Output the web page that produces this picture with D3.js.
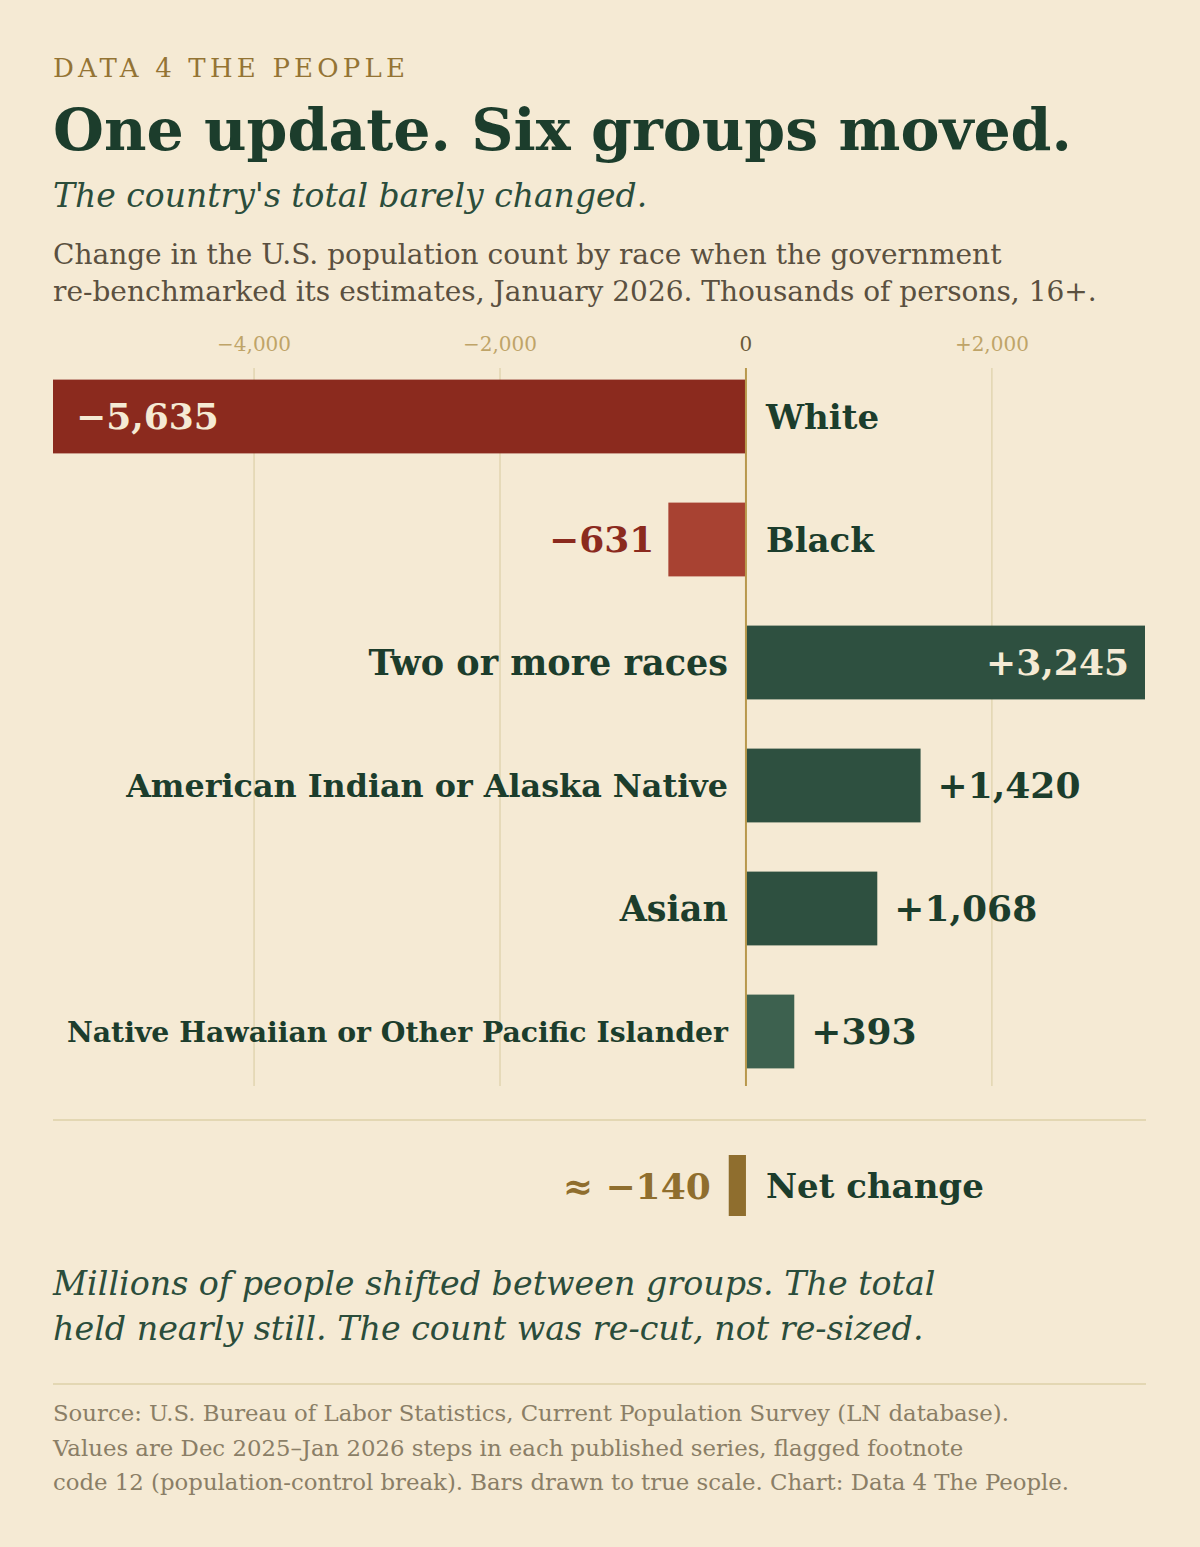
<!DOCTYPE html>
<html><head><meta charset="utf-8">
<script src="https://cdn.jsdelivr.net/npm/d3@7"></script>
<style>body{margin:0;background:#f5ead4;}</style>
</head><body>
<script>
const categories = ["White", "Black", "Two or more races", "American Indian or Alaska Native", "Asian", "Native Hawaiian or Other Pacific Islander"];
const values = [-5635, -631, 3245, 1420, 1068, 393];
const netChange = -140;
const ticks = [-4000, -2000, 0, 2000];

const W = 1200, H = 1547;
const svg = d3.select("body").append("svg").attr("width", W).attr("height", H)
  .style("font-family", "'DejaVu Serif', serif");
svg.append("rect").attr("width", W).attr("height", H).attr("fill", "#f5ead4");

const ink = "#1c3d2c";
svg.append("text").attr("x", 53).attr("y", 77).attr("fill", "#947434")
  .attr("font-size", 26).attr("letter-spacing", 4.2).text("DATA 4 THE PEOPLE");
svg.append("text").attr("x", 53).attr("y", 150).attr("fill", ink)
  .attr("font-size", 58.5).attr("font-weight", "bold").text("One update. Six groups moved.");
svg.append("text").attr("x", 53).attr("y", 207).attr("fill", "#2b4d3b")
  .attr("font-size", 33).attr("font-style", "italic").text("The country's total barely changed.");
[["Change in the U.S. population count by race when the government", 264],
 ["re-benchmarked its estimates, January 2026. Thousands of persons, 16+.", 301]].forEach(([t, y]) =>
  svg.append("text").attr("x", 53).attr("y", y).attr("fill", "#5a5040").attr("font-size", 28).text(t));

const x = d3.scaleLinear().domain([d3.min(values), d3.max(values)]).range([53, 1145]);
const y = d3.scaleBand().domain(categories).range([355, 1093]).paddingInner(0.4).paddingOuter(0.2);

const fmt = v => (v > 0 ? "+" : v < 0 ? "\u2212" : "") + d3.format(",")(Math.abs(v));

// grid
svg.append("g").selectAll("line").data(ticks.filter(t => t !== 0)).join("line")
  .attr("x1", d => x(d)).attr("x2", d => x(d)).attr("y1", 368).attr("y2", 1086)
  .attr("stroke", "#ddd0a8").attr("stroke-width", 1.2);
svg.append("g").selectAll("text").data(ticks).join("text")
  .attr("x", d => x(d)).attr("y", 351).attr("text-anchor", "middle")
  .attr("font-size", 20).attr("fill", d => d === 0 ? "#6a5a3a" : "#bfa468")
  .text(d => d === 0 ? "0" : fmt(d));

const barColor = (d, i) => i === 0 ? "#8b2a1e" : i === 1 ? "#a84232" : i === 5 ? "#3d614f" : "#2e5040";
const labelSize = [34, 34, 35, 31.8, 35, 28.3];

const rows = svg.append("g").selectAll("g").data(categories).join("g");
rows.append("rect")
  .attr("x", (d, i) => Math.min(x(0), x(values[i])))
  .attr("width", (d, i) => Math.abs(x(values[i]) - x(0)))
  .attr("y", d => y(d)).attr("height", y.bandwidth())
  .attr("fill", barColor);
rows.append("text")
  .attr("x", (d, i) => values[i] < 0 ? x(0) + 20 : x(0) - 18)
  .attr("text-anchor", (d, i) => values[i] < 0 ? "start" : "end")
  .attr("y", d => y(d) + y.bandwidth() / 2).attr("dy", "0.36em")
  .attr("font-size", (d, i) => labelSize[i]).attr("font-weight", "bold").attr("fill", ink)
  .text(d => d);
rows.append("text")
  .each(function (d, i) {
    const v = values[i];
    const inside = Math.abs(x(v) - x(0)) > 300;
    const sel = d3.select(this);
    if (v < 0) {
      sel.attr("x", inside ? x(v) + 23 : x(v) - 14).attr("text-anchor", inside ? "start" : "end")
        .attr("fill", inside ? "#f5ead4" : "#8b2a1e");
    } else {
      sel.attr("x", inside ? x(v) - 16 : x(v) + 17).attr("text-anchor", inside ? "end" : "start")
        .attr("fill", inside ? "#f5ead4" : ink);
    }
  })
  .attr("y", d => y(d) + y.bandwidth() / 2).attr("dy", "0.36em")
  .attr("font-size", 36).attr("font-weight", "bold").text((d, i) => fmt(values[i]));

// zero axis
svg.append("line").attr("x1", x(0)).attr("x2", x(0)).attr("y1", 368).attr("y2", 1086)
  .attr("stroke", "#b8984c").attr("stroke-width", 2);

// net change
svg.append("line").attr("x1", 53).attr("x2", 1146).attr("y1", 1120).attr("y2", 1120)
  .attr("stroke", "#ddd0a8").attr("stroke-width", 1.5);
svg.append("rect").attr("x", x(netChange)).attr("width", x(0) - x(netChange))
  .attr("y", 1155).attr("height", 61).attr("fill", "#8f6e2e");
svg.append("text").attr("x", x(netChange) - 18).attr("y", 1186).attr("dy", "0.36em")
  .attr("text-anchor", "end").attr("font-size", 36).attr("font-weight", "bold").attr("fill", "#8f6e2e")
  .text("\u2248 " + fmt(netChange));
svg.append("text").attr("x", x(0) + 20).attr("y", 1186).attr("dy", "0.36em")
  .attr("font-size", 34).attr("font-weight", "bold").attr("fill", ink).text("Net change");

[["Millions of people shifted between groups. The total", 1295],
 ["held nearly still. The count was re-cut, not re-sized.", 1340]].forEach(([t, yy]) =>
  svg.append("text").attr("x", 53).attr("y", yy).attr("fill", "#2b4d3b")
    .attr("font-size", 33.3).attr("font-style", "italic").text(t));

svg.append("line").attr("x1", 53).attr("x2", 1146).attr("y1", 1384).attr("y2", 1384)
  .attr("stroke", "#ddd0a8").attr("stroke-width", 1.5);
["Source: U.S. Bureau of Labor Statistics, Current Population Survey (LN database).",
 "Values are Dec 2025\u2013Jan 2026 steps in each published series, flagged footnote",
 "code 12 (population-control break). Bars drawn to true scale. Chart: Data 4 The People."]
  .forEach((t, i) => svg.append("text").attr("x", 53).attr("y", 1421 + i * 34.5)
    .attr("font-size", 22.8).attr("fill", "#8a7e66").text(t));
</script>
</body></html>
